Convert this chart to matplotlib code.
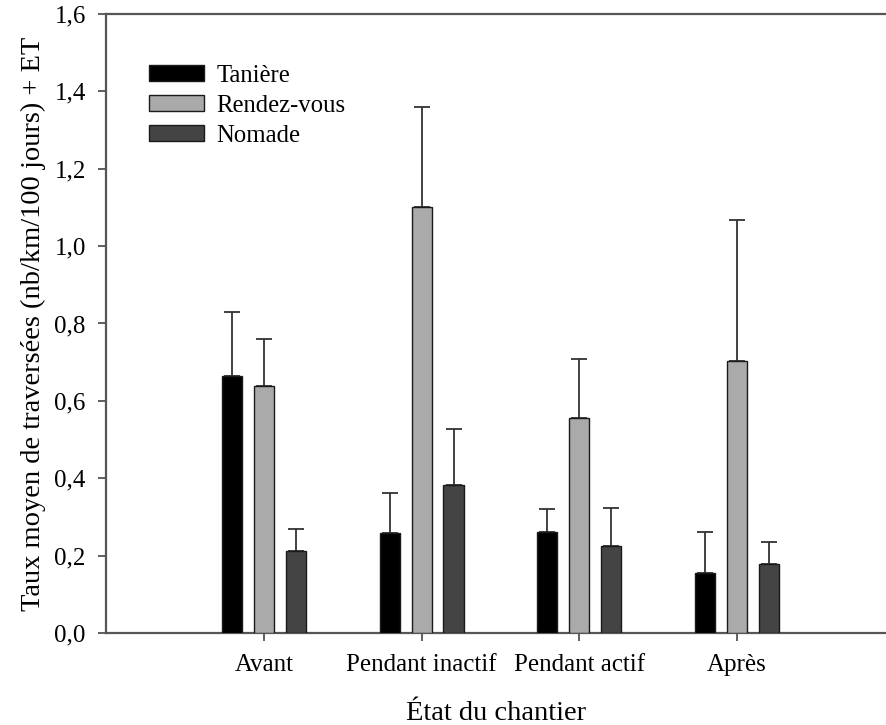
import numpy as np
import matplotlib
matplotlib.use("Agg")
import matplotlib.pyplot as plt
from matplotlib.ticker import FuncFormatter

plt.rcParams["font.family"] = ["Liberation Serif", "DejaVu Serif"]

groups = ["Avant", "Pendant inactif", "Pendant actif", "Après"]
series = ["Tanière", "Rendez-vous", "Nomade"]
colors = ["#000000", "#aaaaaa", "#444444"]

taniere = [0.664, 0.259, 0.260, 0.155]
rendezvous = [0.638, 1.100, 0.555, 0.703]
nomade = [0.212, 0.383, 0.225, 0.178]

taniere_et = [0.165, 0.104, 0.060, 0.105]
rendezvous_et = [0.122, 0.259, 0.153, 0.364]
nomade_et = [0.058, 0.144, 0.099, 0.056]

means = [taniere, rendezvous, nomade]
errs = [taniere_et, rendezvous_et, nomade_et]

fig = plt.figure(figsize=(8.87, 7.25), dpi=100)
ax = fig.add_axes([0.1195, 0.1269, 0.8805, 0.8538])

x = np.arange(1, len(groups) + 1)
w = 0.127
step = 0.2025

for i, (m, e, c, lab) in enumerate(zip(means, errs, colors, series)):
    pos = x + (i - 1) * step
    ax.bar(pos, m, width=w, color=c, edgecolor="#1a1a1a", linewidth=1.0,
           label=lab, zorder=3)
    ax.errorbar(pos, m, yerr=[np.zeros(len(m)), e], fmt="none",
                ecolor="#333333", elinewidth=1.3, capsize=6, capthick=1.3,
                zorder=2)

ax.set_xlim(0, 4.95)
ax.set_ylim(0, 1.6)
ax.set_xticks(x)
ax.set_xticklabels(groups, fontsize=18)
ax.set_yticks(np.arange(0, 1.61, 0.2))
ax.yaxis.set_major_formatter(FuncFormatter(lambda v, p: f"{v:.1f}".replace(".", ",")))
ax.tick_params(axis="y", labelsize=18, direction="out", length=6, width=1.2,
               color="#444444", pad=8.5)
ax.tick_params(axis="x", direction="out", length=6, width=1.2, color="#444444", pad=9)

for s in ["left", "bottom", "top"]:
    ax.spines[s].set_color("#555555")
    ax.spines[s].set_linewidth(1.6)
ax.spines["right"].set_visible(False)

ax.set_ylabel("Taux moyen de traversées (nb/km/100 jours) + ET", fontsize=20.5, labelpad=6)
ax.set_xlabel("État du chantier", fontsize=20.5, labelpad=18)

ax.legend(loc="upper left", bbox_to_anchor=(0.027, 0.954), frameon=False,
          fontsize=17.8, handlelength=2.2, handleheight=0.6, labelspacing=0.33,
          handletextpad=0.5)

fig.savefig("out.png", dpi=100, facecolor="white")
